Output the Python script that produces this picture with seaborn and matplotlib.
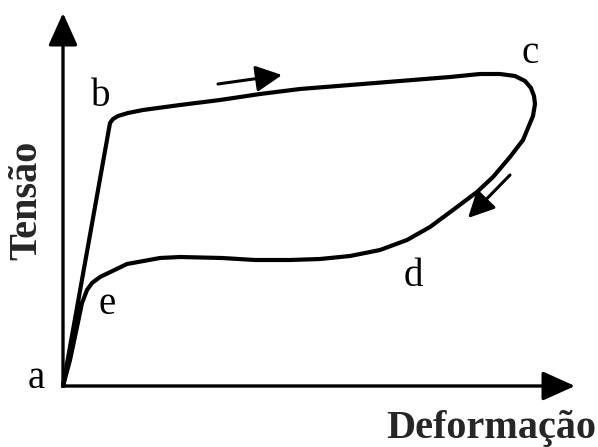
import matplotlib
matplotlib.use("Agg")
import matplotlib.pyplot as plt
import seaborn as sns

sns.set_theme(style="white")
plt.rcParams['font.family'] = ['Liberation Serif', 'DejaVu Serif']

# Hysteresis loop (strain, stress), a -> b -> c -> d -> e -> a
loop_strain = [0, 47, 50, 55, 65, 80, 117, 157, 197, 237, 287, 337, 387, 417, 437, 452, 462,
               468, 471, 472, 470, 465, 460, 447, 430, 414, 394, 367, 344, 317, 287, 257, 227,
               192, 159, 117, 97, 64, 37, 29, 24, 19, 14, 7, 0]
loop_stress = [0, 263, 267, 270, 273, 276, 281, 286, 292, 297, 301, 305, 309, 312, 312, 310, 305,
               298, 290, 282, 270, 258, 246, 229, 209, 194, 179, 159, 146, 136, 130, 127, 126,
               126, 128, 129, 128, 122, 109, 103, 96, 83, 59, 26, 0]

point_labels = ['a', 'b', 'c', 'd', 'e']
label_x = [-27, 38, 467, 350, 44]
label_y = [-2, 280, 323, 100, 72]

x_label = 'Deformação'
y_label = 'Tensão'

fig = plt.figure(figsize=(5.98, 4.47), dpi=100)
ax = fig.add_axes([0, 0, 1, 1])
ax.set_xlim(-63, 535)
ax.set_ylim(-61, 386)
ax.axis('off')

sns.lineplot(x=loop_strain, y=loop_stress, sort=False, estimator=None, ax=ax,
             color='black', linewidth=3.0, solid_joinstyle='round', solid_capstyle='round')

# axes with arrowheads
axis_style = dict(arrowstyle='-|>,head_length=1.0,head_width=0.45', color='black',
                  lw=2.4, mutation_scale=20, shrinkA=0, shrinkB=0)
ax.annotate('', xy=(512, 0), xytext=(0, 0), arrowprops=axis_style)
ax.annotate('', xy=(0, 373), xytext=(0, 0), arrowprops=axis_style)

# direction arrows
dir_style = dict(arrowstyle='-|>,head_length=0.8,head_width=0.4', color='black',
                 lw=2.2, mutation_scale=20, shrinkA=0, shrinkB=0)
ax.annotate('', xy=(219, 311), xytext=(155, 302), arrowprops=dir_style)
ax.annotate('', xy=(405, 168), xytext=(447, 211), arrowprops=dir_style)

for t, x, y in zip(point_labels, label_x, label_y):
    ax.text(x, y, t, fontsize=28, ha='center', va='baseline', color='black')

ax.text(428, -52, x_label, fontsize=29, fontweight='bold', ha='center', va='baseline')
ax.text(-36, 186, y_label, fontsize=29, fontweight='bold', ha='center', va='center',
        rotation=90)

fig.savefig('out.png', dpi=100)
